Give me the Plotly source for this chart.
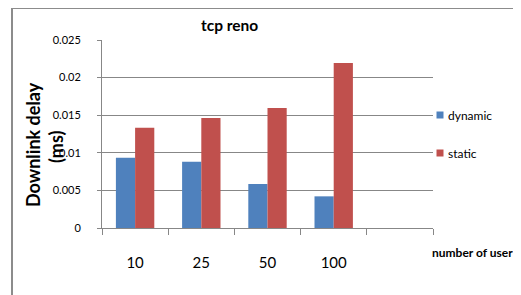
import plotly.graph_objects as go

categories = ["10", "25", "50", "100"]
extra_category = " "
series_names = ["dynamic", "static"]
series_colors = ["#4F81BD", "#C0504D"]
dynamic = [0.00935, 0.00882, 0.00585, 0.00421]
static = [0.01334, 0.01463, 0.01596, 0.02194]
y_ticks = [0, 0.005, 0.01, 0.015, 0.02, 0.025]
y_tick_text = ["0", "0.005", "0.01", "0.015", "0.02", "0.025"]

FONT = "Lato, 'Open Sans', sans-serif"
GRID = "#878787"

fig = go.Figure()
for name, vals, col in zip(series_names, [dynamic, static], series_colors):
    fig.add_trace(go.Bar(name=name, x=categories, y=vals,
                         marker=dict(color=col, line=dict(width=0))))

OFF = 8  # page body margin
W, H = 521 - OFF, 295 - OFF
L = 102 - OFF
T = 40 - OFF
R = (521 - 433)
B = (295 - 228)
pw, ph = W - L - R, H - T - B

def px(x):
    return (x - OFF - L) / pw

def py(y):
    return (H - B - (y - OFF)) / ph

def ann(text, x, y, size, angle=0, xanchor="center"):
    return dict(text=text, xref="paper", yref="paper", x=px(x), y=py(y),
                xanchor=xanchor, yanchor="middle", textangle=angle,
                showarrow=False, font=dict(size=size, family=FONT, color="black"))

shapes = [dict(type="rect", xref="paper", yref="paper",
               x0=px(12), x1=px(517), y0=py(310), y1=py(8),
               line=dict(color="#8c8c8c", width=2), layer="below")]
annotations = [
    ann("<b>tcp reno</b>", 229, 25, 15.5),
    ann("<b>Downlink delay</b>", 33, 145, 18, angle=-90),
    ann("<b>(ms)</b>", 56, 147, 18, angle=-90),
    ann("<b>number of user</b>", 472, 253, 12),
]
legend_y = [115, 153]
for name, col, ly in zip(series_names, series_colors, legend_y):
    shapes.append(dict(type="rect", xref="paper", yref="paper",
                       x0=px(436.5), x1=px(443.5), y0=py(ly + 3.5), y1=py(ly - 3.5),
                       fillcolor=col, line=dict(width=0)))
    annotations.append(ann(name, 446, ly, 12, xanchor="left"))

fig.update_layout(
    width=W, height=H,
    margin=dict(l=L, r=R, t=T, b=B, autoexpand=False),
    paper_bgcolor="white", plot_bgcolor="white",
    barmode="group", bargap=0.42, bargroupgap=0,
    font=dict(family=FONT, color="black"),
    showlegend=False,
    xaxis=dict(type="category", categoryorder="array",
               categoryarray=categories + [extra_category],
               range=[-0.5, 4.5], tickson="boundaries",
               ticks="outside", ticklen=6, tickcolor=GRID, tickwidth=1,
               showline=True, linecolor=GRID, linewidth=1,
               showgrid=False, tickfont=dict(size=15, family=FONT),
               ticklabelstandoff=21, fixedrange=True, automargin=False),
    yaxis=dict(range=[0, 0.025], tickvals=y_ticks, ticktext=y_tick_text,
               ticks="outside", ticklen=4, tickcolor=GRID,
               showline=True, linecolor=GRID, linewidth=1,
               showgrid=True, gridcolor=GRID, gridwidth=1,
               zeroline=False, tickfont=dict(size=11, family=FONT),
               ticklabelstandoff=14, fixedrange=True, automargin=False),
    shapes=shapes,
    annotations=annotations,
)

fig.write_html("out.html")
